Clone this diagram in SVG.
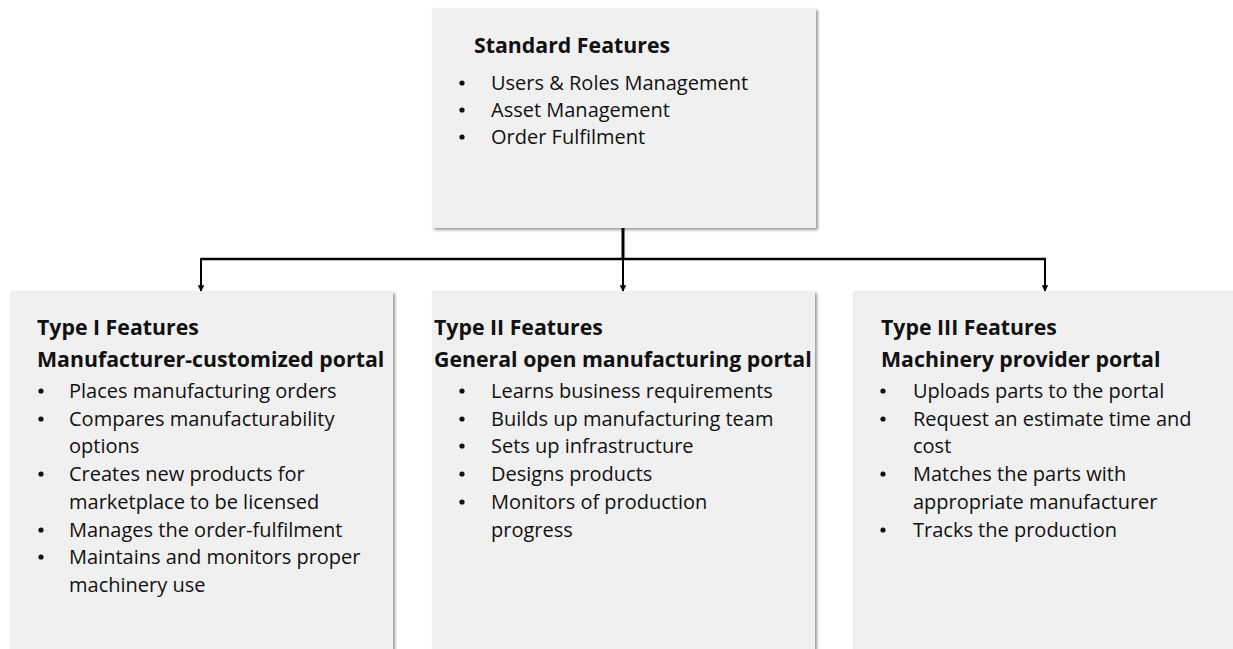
<svg xmlns="http://www.w3.org/2000/svg" width="1233" height="649" viewBox="0 0 1233 649">
<style>
.box{fill:#f0f0f0;filter:url(#sh);}
text{font-family:"Open Sans","Noto Sans",sans-serif;fill:#111;}
.t{font-size:21.3px;font-weight:bold;}
.b{font-size:20px;}
.d{fill:#111;}
.ln{stroke:#000;fill:none;}
</style>
<defs>
<filter id="sh" x="-5%" y="-5%" width="115%" height="115%">
<feDropShadow dx="2" dy="2" stdDeviation="1.5" flood-color="#000" flood-opacity="0.4"/>
</filter>
<marker id="ah" viewBox="0 0 10 10" refX="9" refY="5" markerWidth="3.2" markerHeight="3.2" orient="auto" markerUnits="strokeWidth">
<path d="M0,0 L10,5 L0,10 z" fill="#000"/>
</marker>
</defs>
<rect width="1233" height="649" fill="#fff"/>
<g id="connectors">
<line class="ln" x1="623" y1="228" x2="623" y2="260" stroke-width="3"/>
<line class="ln" x1="201" y1="259" x2="1046" y2="259" stroke-width="2.5"/>
<line class="ln" x1="201" y1="258" x2="201" y2="291" stroke-width="2" marker-end="url(#ah)"/>
<line class="ln" x1="623" y1="258" x2="623" y2="291" stroke-width="2" marker-end="url(#ah)"/>
<line class="ln" x1="1045" y1="258" x2="1045" y2="291" stroke-width="2" marker-end="url(#ah)"/>
</g>
<g id="standard">
<rect class="box" x="432" y="8" width="384" height="220"/>
<text class="t" x="474" y="53">Standard Features</text>
<circle class="d" cx="462" cy="83" r="2.6"/><text class="b" x="491" y="90">Users &amp; Roles Management</text>
<circle class="d" cx="462" cy="110" r="2.6"/><text class="b" x="491" y="117">Asset Management</text>
<circle class="d" cx="462" cy="137" r="2.6"/><text class="b" x="491" y="144">Order Fulfilment</text>
</g>
<g id="type1">
<rect class="box" x="10" y="291" width="383" height="370"/>
<text class="t" x="37" y="335">Type I Features</text>
<text class="t" x="37" y="367">Manufacturer-customized portal</text>
<circle class="d" cx="41" cy="391" r="2.6"/><text class="b" x="69" y="398">Places manufacturing orders</text>
<circle class="d" cx="41" cy="419" r="2.6"/><text class="b" x="69" y="426">Compares manufacturability</text>
<text class="b" x="69" y="453">options</text>
<circle class="d" cx="41" cy="474" r="2.6"/><text class="b" x="69" y="481">Creates new products for</text>
<text class="b" x="69" y="509">marketplace to be licensed</text>
<circle class="d" cx="41" cy="530" r="2.6"/><text class="b" x="69" y="537">Manages the order-fulfilment</text>
<circle class="d" cx="41" cy="557" r="2.6"/><text class="b" x="69" y="564">Maintains and monitors proper</text>
<text class="b" x="69" y="592">machinery use</text>
</g>
<g id="type2">
<rect class="box" x="432" y="291" width="383" height="370"/>
<text class="t" x="434" y="335">Type II Features</text>
<text class="t" x="434" y="367">General open manufacturing portal</text>
<circle class="d" cx="462" cy="391" r="2.6"/><text class="b" x="491" y="398">Learns business requirements</text>
<circle class="d" cx="462" cy="419" r="2.6"/><text class="b" x="491" y="426">Builds up manufacturing team</text>
<circle class="d" cx="462" cy="446" r="2.6"/><text class="b" x="491" y="453">Sets up infrastructure</text>
<circle class="d" cx="462" cy="474" r="2.6"/><text class="b" x="491" y="481">Designs products</text>
<circle class="d" cx="462" cy="502" r="2.6"/><text class="b" x="491" y="509">Monitors of production</text>
<text class="b" x="491" y="537">progress</text>
</g>
<g id="type3">
<rect class="box" x="853" y="291" width="390" height="370"/>
<text class="t" x="881" y="335">Type III Features</text>
<text class="t" x="881" y="367">Machinery provider portal</text>
<circle class="d" cx="883" cy="391" r="2.6"/><text class="b" x="913" y="398">Uploads parts to the portal</text>
<circle class="d" cx="883" cy="419" r="2.6"/><text class="b" x="913" y="426">Request an estimate time and</text>
<text class="b" x="913" y="453">cost</text>
<circle class="d" cx="883" cy="474" r="2.6"/><text class="b" x="913" y="481">Matches the parts with</text>
<text class="b" x="913" y="509">appropriate manufacturer</text>
<circle class="d" cx="883" cy="530" r="2.6"/><text class="b" x="913" y="537">Tracks the production</text>
</g>
</svg>
